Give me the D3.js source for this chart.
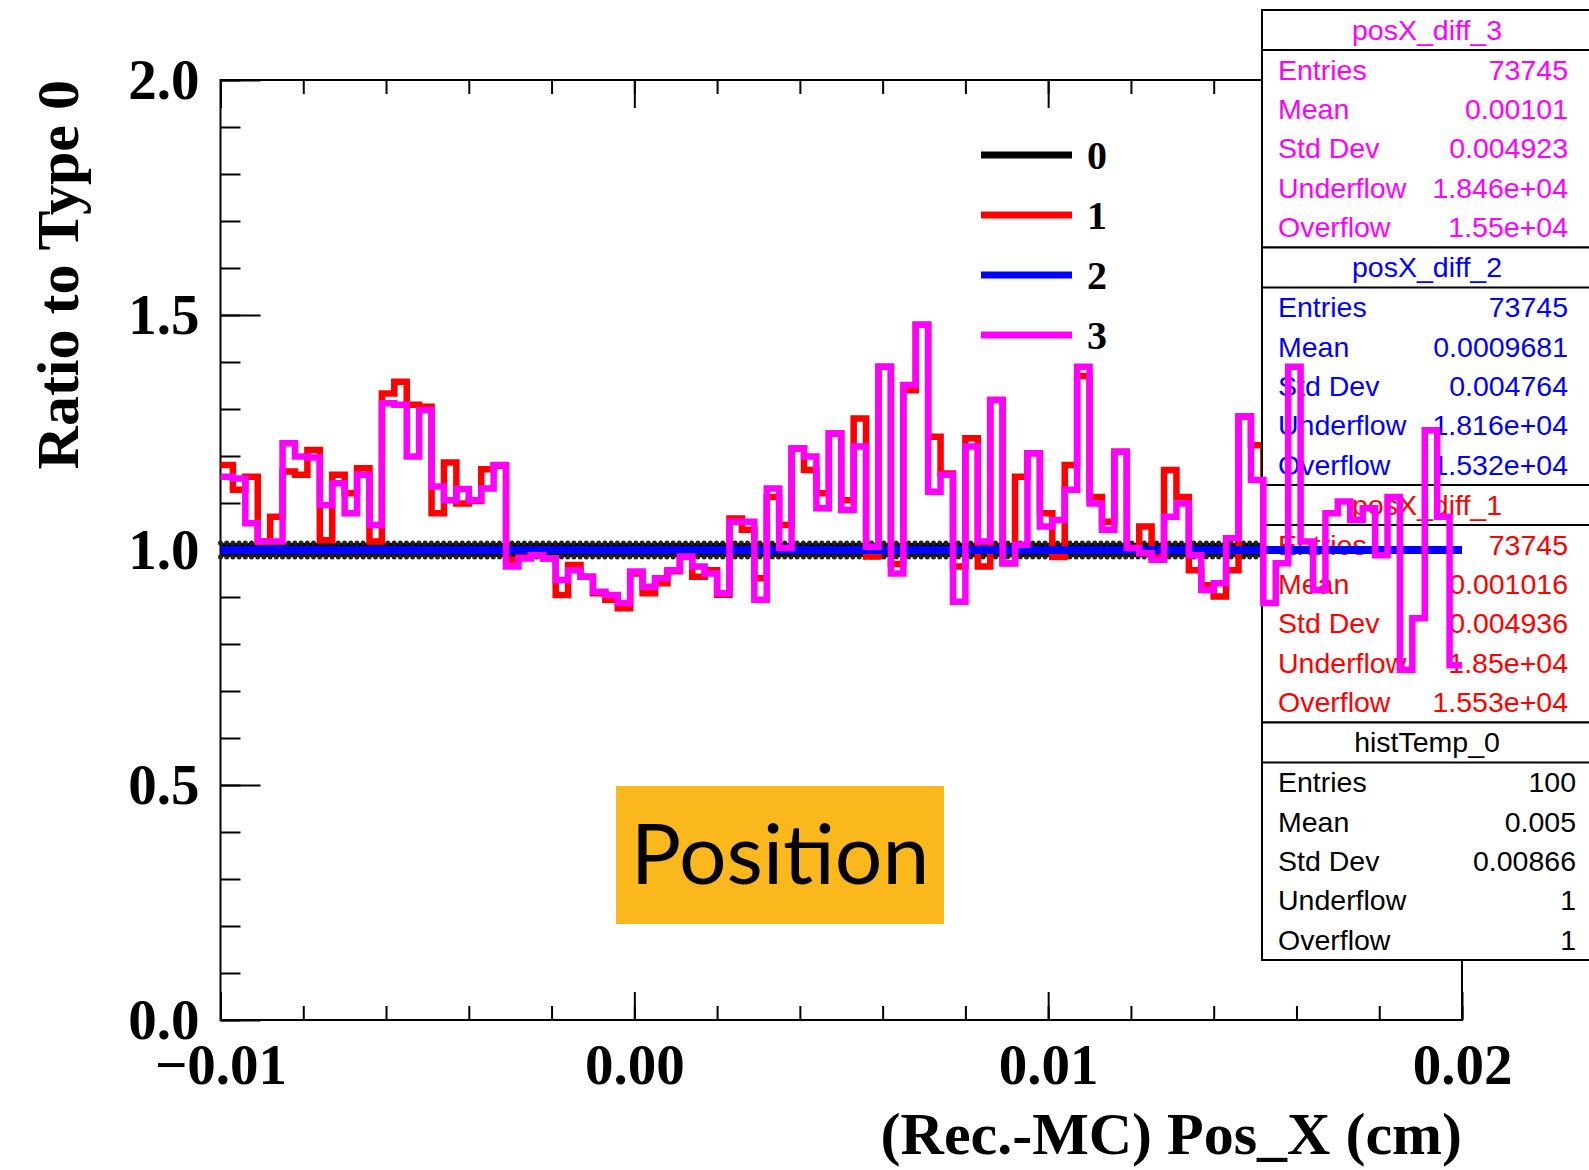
<!DOCTYPE html>
<html>
<head>
<meta charset="utf-8">
<script src="https://cdn.jsdelivr.net/npm/d3@7"></script>
<style>
    body { margin: 0; background: #ffffff; }
</style>
</head>
<body>
<svg id="chart" width="1589" height="1170"></svg>
<script>
//binning of the ratio histograms
var xMin = -0.01;
var xMax = 0.02;
var nBins = 100;

//ratio to type 0, one value per bin
var ratio0 = [1,1,1,1,1,1,1,1,1,1, 1,1,1,1,1,1,1,1,1,1, 1,1,1,1,1,1,1,1,1,1, 1,1,1,1,1,1,1,1,1,1,
    1,1,1,1,1,1,1,1,1,1, 1,1,1,1,1,1,1,1,1,1, 1,1,1,1,1,1,1,1,1,1, 1,1,1,1,1,1,1,1,1,1,
    1,1,1,1,1,1,1,1,1,1, 1,1,1,1,1,1,1,1,1,1];
var ratio1 = [1.181,1.128,1.156,1.018,1.071,1.167,1.160,1.213,1.021,1.160,
    1.121,1.174,1.018,1.333,1.358,1.309,1.305,1.078,1.186,1.099,
    1.104,1.172,1.179,0.979,0.984,0.989,0.982,0.904,0.968,0.943,
    0.908,0.894,0.876,0.950,0.908,0.929,0.955,0.986,0.943,0.957,
    0.905,1.067,1.043,0.940,1.113,1.053,1.216,1.170,1.121,1.248,
    1.106,1.280,0.986,1.390,0.970,1.340,1.479,1.241,1.163,0.965,
    1.238,0.965,1.319,0.972,1.156,1.206,1.078,0.985,1.181,1.370,
    1.113,1.060,1.209,1.004,1.050,0.985,1.170,1.113,0.957,0.925,
    0.901,0.957,1.284,1.223,0.900,0.980,1.360,1.030,0.930,1.090,
    1.110,1.070,1.100,0.990,1.120,0.770,0.870,1.240,1.080,0.770];
var ratio2 = [1,1,1,1,1,1,1,1,1,1, 1,1,1,1,1,1,1,1,1,1, 1,1,1,1,1,1,1,1,1,1, 1,1,1,1,1,1,1,1,1,1,
    1,1,1,1,1,1,1,1,1,1, 1,1,1,1,1,1,1,1,1,1, 1,1,1,1,1,1,1,1,1,1, 1,1,1,1,1,1,1,1,1,1,
    1,1,1,1,1,1,1,1,1,1, 1,1,1,1,1,1,1,1,1,1];
var ratio3 = [1.156,1.152,1.057,1.018,1.018,1.227,1.199,1.197,1.096,1.142,
    1.078,1.160,1.053,1.312,1.309,1.199,1.298,1.135,1.106,1.130,
    1.106,1.131,1.181,0.965,0.982,0.989,0.982,0.936,0.957,0.943,
    0.911,0.904,0.887,0.954,0.922,0.940,0.957,0.986,0.965,0.950,
    0.908,1.060,1.060,0.894,1.131,1.004,1.216,1.199,1.089,1.248,
    1.085,1.220,1.007,1.390,0.950,1.351,1.479,1.124,1.160,0.890,
    1.220,1.018,1.319,0.972,1.011,1.206,1.050,1.064,1.128,1.390,
    1.099,1.043,1.209,1.004,0.993,0.979,1.071,1.099,0.989,0.915,
    0.929,1.025,1.284,1.149,0.887,0.972,1.390,1.018,0.915,1.078,
    1.103,1.064,1.089,0.989,1.113,0.745,0.855,1.255,1.071,0.755];

//axes
var xMajorTicks = [-0.01, 0.00, 0.01, 0.02];
var yMajorTicks = [0.0, 0.5, 1.0, 1.5, 2.0];
var xTitle = "(Rec.-MC) Pos_X (cm)";
var yTitle = "Ratio to Type 0";

//legend
var legendLabels = ["0", "1", "2", "3"];
var typeColors = ["#000000", "#ff0000", "#0000ff", "#ff00ff"];

//stats boxes, top to bottom
var statsTitles = ["posX_diff_3", "posX_diff_2", "posX_diff_1", "histTemp_0"];
var statsColors = ["#ff00ff", "#0000ff", "#ff0000", "#000000"];
var statsNames = ["Entries", "Mean", "Std Dev", "Underflow", "Overflow"];
var stats3 = ["73745", "0.00101", "0.004923", "1.846e+04", "1.55e+04"];
var stats2 = ["73745", "0.0009681", "0.004764", "1.816e+04", "1.532e+04"];
var stats1 = ["73745", "0.001016", "0.004936", "1.85e+04", "1.553e+04"];
var stats0 = ["100", "0.005", "0.00866", "1", "1"];

var boxLabel = "Position";

main();

function main() {
    var svg = d3.select('#chart');
    var serif = '"Liberation Serif", "Times New Roman", serif';
    var sans = '"Liberation Sans", Arial, sans-serif';

    var x = d3.scaleLinear().domain([xMin, xMax]).range([220.5, 1462]);
    var y = d3.scaleLinear().domain([0, 2]).range([1020, 80]);
    var binWidth = (xMax - xMin) / nBins;

    //step outline like a ROOT "hist" draw
    var stepLine = d3.line()
        .x(function(d) { return x(d[0]); })
        .y(function(d) { return y(d[1]); })
        .curve(d3.curveStepAfter);

    function binPoints(values) {
        var pts = values.map(function(v, i) { return [xMin + i * binWidth, v]; });
        pts.push([xMax, values[values.length - 1]]);
        return pts;
    }

    drawAxes();
    drawType0();
    drawHist(ratio1, typeColors[1], 6.5);
    drawStats();
    drawHist(ratio2, typeColors[2], 8);
    drawHist(ratio3, typeColors[3], 6.5);
    drawLegend();
    drawLabelBox();

    function drawAxes() {
        //minor ticks first, the major ones go on top
        svg.append('g')
            .attr('transform', 'translate(0,1020)')
            .call(d3.axisBottom(x).tickValues(x.ticks(15)).tickSize(-14).tickFormat(''));
        svg.append('g')
            .attr('transform', 'translate(0,1020)')
            .call(d3.axisBottom(x).tickValues(xMajorTicks).tickSize(-28).tickPadding(24)
                .tickFormat(d3.format('.2f')));
        svg.append('g')
            .attr('transform', 'translate(0,80)')
            .call(d3.axisTop(x).tickValues(x.ticks(15)).tickSize(-14).tickFormat(''));
        svg.append('g')
            .attr('transform', 'translate(0,80)')
            .call(d3.axisTop(x).tickValues(xMajorTicks).tickSize(-28).tickFormat(''));

        svg.append('g')
            .attr('transform', 'translate(220.5,0)')
            .call(d3.axisLeft(y).tickValues(y.ticks(20)).tickSize(-20).tickFormat(''));
        svg.append('g')
            .attr('transform', 'translate(220.5,0)')
            .call(d3.axisLeft(y).tickValues(yMajorTicks).tickSize(-40).tickPadding(21)
                .tickFormat(d3.format('.1f')));

        svg.selectAll('.domain').remove();
        svg.selectAll('.tick line').attr('stroke', '#000').attr('stroke-width', 2);
        svg.selectAll('.tick text')
            .attr('fill', '#000')
            .style('font-family', serif)
            .style('font-weight', 'bold')
            .style('font-size', '57px');

        //frame
        svg.append('rect')
            .attr('x', x(xMin)).attr('y', y(2))
            .attr('width', x(xMax) - x(xMin)).attr('height', y(0) - y(2))
            .attr('fill', 'none').attr('stroke', '#000').attr('stroke-width', 2);

        svg.append('text')
            .attr('x', x(xMax)).attr('y', 1154)
            .attr('text-anchor', 'end')
            .style('font-family', serif).style('font-weight', 'bold').style('font-size', '60px')
            .text(xTitle);
        svg.append('text')
            .attr('transform', 'translate(78,' + y(2) + ') rotate(-90)')
            .attr('text-anchor', 'end')
            .style('font-family', serif).style('font-weight', 'bold').style('font-size', '60px')
            .text(yTitle);
    }

    function drawType0() {
        //black histogram has markers on it, looks like a scalloped band
        svg.append('path')
            .attr('d', stepLine(binPoints(ratio0)))
            .attr('fill', 'none').attr('stroke', typeColors[0]).attr('stroke-width', 14);
        [-7, 7].forEach(function(off) {
            svg.append('path')
                .attr('d', stepLine(binPoints(ratio0)))
                .attr('transform', 'translate(0,' + off + ')')
                .attr('fill', 'none').attr('stroke', '#222')
                .attr('stroke-width', 5)
                .attr('stroke-linecap', 'round')
                .attr('stroke-dasharray', '0,6.2');
        });
    }

    function drawHist(values, color, width) {
        svg.append('path')
            .attr('d', stepLine(binPoints(values)))
            .attr('fill', 'none')
            .attr('stroke', color)
            .attr('stroke-width', width)
            .attr('stroke-linejoin', 'miter');
    }

    function drawStats() {
        var allStats = [stats3, stats2, stats1, stats0];
        var left = 1262, right = 1592, boxH = 237.5, titleH = 40, rowH = 39.4;
        var g = svg.append('g').style('font-family', sans).style('font-size', '28.5px');

        allStats.forEach(function(vals, k) {
            var top = 10 + k * boxH;
            var color = statsColors[k];
            var valueX = k == 3 ? 1576 : 1568;

            g.append('rect')
                .attr('x', left).attr('y', top)
                .attr('width', right - left).attr('height', boxH)
                .attr('fill', '#fff').attr('stroke', '#000').attr('stroke-width', 2);
            g.append('line')
                .attr('x1', left).attr('x2', right)
                .attr('y1', top + titleH).attr('y2', top + titleH)
                .attr('stroke', '#000').attr('stroke-width', 2);
            g.append('text')
                .attr('x', (left + right) / 2).attr('y', top + titleH / 2)
                .attr('dy', '0.35em').attr('text-anchor', 'middle')
                .attr('fill', color)
                .text(statsTitles[k]);

            statsNames.forEach(function(name, j) {
                var rowY = top + titleH + rowH / 2 + j * rowH;
                g.append('text')
                    .attr('x', 1278).attr('y', rowY).attr('dy', '0.35em')
                    .attr('fill', color)
                    .text(name);
                g.append('text')
                    .attr('x', valueX).attr('y', rowY).attr('dy', '0.35em')
                    .attr('text-anchor', 'end')
                    .attr('fill', color)
                    .text(vals[j]);
            });
        });
    }

    function drawLegend() {
        var rowsY = [155, 215, 275, 335];
        legendLabels.forEach(function(lab, i) {
            svg.append('line')
                .attr('x1', 981).attr('x2', 1072)
                .attr('y1', rowsY[i]).attr('y2', rowsY[i])
                .attr('stroke', typeColors[i]).attr('stroke-width', 7);
            svg.append('text')
                .attr('x', 1087).attr('y', rowsY[i]).attr('dy', '0.35em')
                .style('font-family', serif).style('font-weight', 'bold').style('font-size', '40px')
                .text(lab);
        });
    }

    function drawLabelBox() {
        svg.append('rect')
            .attr('x', 616).attr('y', 786)
            .attr('width', 328).attr('height', 138)
            .attr('fill', '#fbb81c');
        svg.append('text')
            .attr('x', 780).attr('y', 884)
            .attr('text-anchor', 'middle')
            .style('font-family', 'Lato, "Noto Sans", sans-serif')
            .style('font-size', '84px')
            .text(boxLabel);
    }
}
</script>
</body>
</html>
